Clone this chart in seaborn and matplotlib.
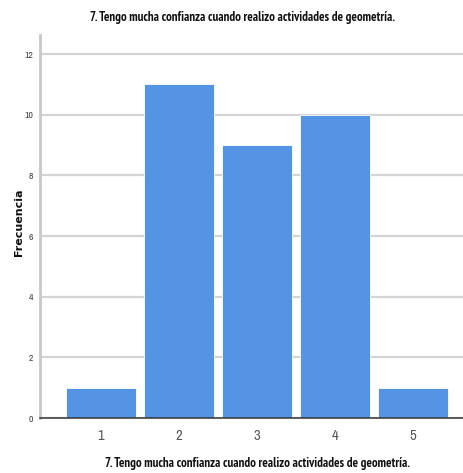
import matplotlib
matplotlib.use("Agg")
import matplotlib.pyplot as plt
import seaborn as sns
import pandas as pd

categories = ["1", "2", "3", "4", "5"]
frecuencias = [1, 11, 9, 10, 1]
y_ticks = [0, 2, 4, 6, 8, 10, 12]
titulo = "7. Tengo mucha confianza cuando realizo actividades de geometría."

sns.set_theme(style="white")
plt.rcParams["font.family"] = ["Archivo Narrow", "DejaVu Sans"]
title_font = ["PT Sans Narrow", "DejaVu Sans"]

df = pd.DataFrame({"respuesta": categories, "frecuencia": frecuencias})

fig = plt.figure(figsize=(4.63, 4.73), dpi=100)
ax = fig.add_axes([40 / 463, 1 - 418 / 473, 1 - 40 / 463, (418 - 35) / 473])

sns.barplot(data=df, x="respuesta", y="frecuencia", color="#5594E4",
            saturation=1, width=0.9, edgecolor="white", linewidth=0.6, ax=ax, zorder=3)

ax.set_xlim(-0.78, 4.64)
ax.set_ylim(0, 12.63)
ax.set_yticks(y_ticks)
ax.set_yticklabels([str(t) for t in y_ticks], fontsize=7, color="#444444")
ax.tick_params(axis="y", length=0, pad=5)
ax.tick_params(axis="x", length=0, pad=8, labelsize=10.5, labelcolor="#555555")
ax.yaxis.grid(True, color="#d4d4d4", linewidth=1.6, zorder=0)
ax.set_axisbelow(True)

for side in ["top", "right"]:
    ax.spines[side].set_visible(False)
ax.spines["left"].set_color("#c8c8c8")
ax.spines["left"].set_linewidth(2)
ax.spines["bottom"].set_color("#333333")
ax.spines["bottom"].set_linewidth(1.1)
ax.spines["bottom"].set_zorder(5)

ax.set_xlabel("")
ax.set_ylabel("")
fig.text(258 / 463, 1 - 463 / 473, titulo, ha="center", va="center",
         fontsize=9.3, fontweight="bold", color="#111111", family=title_font)
fig.text(19 / 463, 1 - 222 / 473, "Frecuencia", rotation=90, ha="center", va="center",
         fontsize=8, fontweight="bold", color="#111111", family="DejaVu Sans")
fig.text(243 / 463, 1 - 18 / 473, titulo, ha="center", va="center",
         fontsize=9.3, fontweight="bold", color="#111111", family=title_font)

fig.savefig("out.png", dpi=100, facecolor="white")
